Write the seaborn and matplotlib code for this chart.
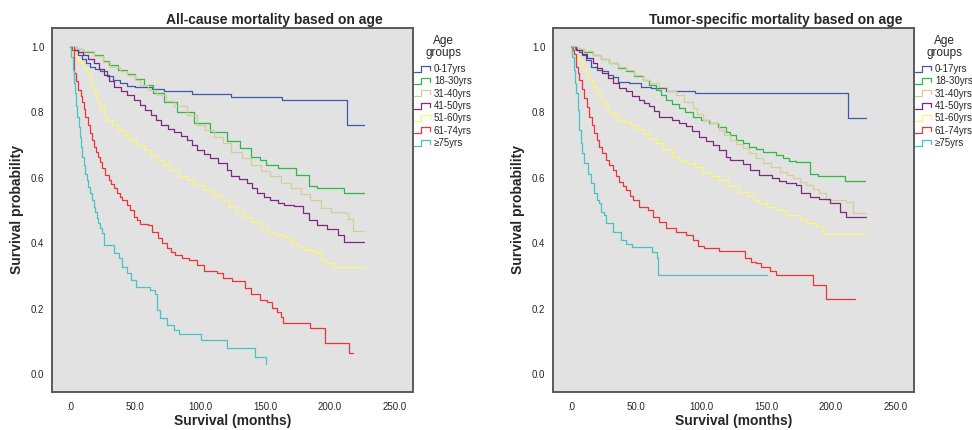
import numpy as np
import pandas as pd
import seaborn as sns
import matplotlib.pyplot as plt
from matplotlib.lines import Line2D
from matplotlib.legend_handler import HandlerBase

# groups / colours (SPSS default palette)
groups = ['0-17yrs', '18-30yrs', '31-40yrs', '41-50yrs', '51-60yrs', '61-74yrs', '≥75yrs']
colors = ['#3e58ac', '#2eb848', '#d3ce97', '#7c287d', '#fbf873', '#ef3338', '#48c2c5']

x_ticks = [0, 50, 100, 150, 200, 250]
x_ticklabels = ['.0', '50.0', '100.0', '150.0', '200.0', '250.0']
y_ticks = [0.0, 0.2, 0.4, 0.6, 0.8, 1.0]
y_ticklabels = ['0.0', '0.2', '0.4', '0.6', '0.8', '1.0']

# ---- all-cause mortality ----
ac_0_17_t = [0, 3, 6, 9, 12, 15, 19, 23, 28, 33, 38, 44, 50, 63, 72, 94, 124, 163, 213, 226]
ac_0_17_s = [1.0, 0.99, 0.975, 0.962, 0.95, 0.94, 0.932, 0.925, 0.912, 0.9, 0.889, 0.882, 0.877, 0.871, 0.864, 0.857, 0.846, 0.837, 0.76, 0.76]

ac_18_30_t = [0, 5, 10, 18, 25, 30, 37, 44, 50, 57, 64, 72, 82, 95, 108, 121, 131, 139, 146, 151, 160, 174, 184, 190, 211, 226]
ac_18_30_s = [1.0, 0.993, 0.985, 0.975, 0.958, 0.945, 0.93, 0.918, 0.902, 0.884, 0.858, 0.833, 0.802, 0.767, 0.741, 0.712, 0.69, 0.665, 0.654, 0.639, 0.629, 0.609, 0.575, 0.568, 0.552, 0.552]

ac_31_40_t = [0, 5, 10, 18, 25, 31, 38, 44, 50, 54, 60, 67, 74, 80, 90, 98, 104, 111, 118, 124, 132, 139, 147, 154, 162, 170, 178, 185, 193, 201, 212, 214, 218, 226]
ac_31_40_s = [1.0, 0.995, 0.988, 0.971, 0.955, 0.94, 0.926, 0.914, 0.898, 0.884, 0.869, 0.853, 0.835, 0.818, 0.792, 0.761, 0.745, 0.726, 0.705, 0.68, 0.662, 0.639, 0.622, 0.604, 0.585, 0.568, 0.55, 0.532, 0.507, 0.496, 0.491, 0.473, 0.437, 0.437]

ac_41_50_t = [0, 3, 6, 10, 14, 18, 22, 26, 30, 34, 39, 44, 49, 54, 58, 62, 66, 70, 75, 80, 85, 90, 94, 98, 103, 108, 114, 121, 124, 130, 136, 140, 144, 149, 154, 160, 165, 172, 179, 184, 190, 198, 206, 211, 226]
ac_41_50_s = [1.0, 0.99, 0.984, 0.976, 0.962, 0.95, 0.932, 0.914, 0.897, 0.879, 0.866, 0.853, 0.838, 0.823, 0.808, 0.792, 0.776, 0.761, 0.75, 0.741, 0.728, 0.716, 0.70, 0.685, 0.672, 0.66, 0.645, 0.625, 0.606, 0.595, 0.583, 0.57, 0.552, 0.542, 0.532, 0.524, 0.517, 0.515, 0.491, 0.471, 0.456, 0.442, 0.425, 0.405, 0.405]

ac_51_60_t = [0, 2, 4, 6, 8, 10, 13, 16, 18, 21, 23, 26, 28, 32, 37, 42, 46, 51, 57, 62, 67, 72, 77, 84, 90, 96, 103, 109, 116, 122, 128, 134, 140, 147, 152, 157, 165, 170, 175, 180, 188, 193, 198, 203, 226]
ac_51_60_s = [1.0, 0.985, 0.972, 0.96, 0.95, 0.935, 0.919, 0.88, 0.858, 0.835, 0.812, 0.792, 0.777, 0.762, 0.746, 0.73, 0.716, 0.70, 0.685, 0.67, 0.654, 0.64, 0.624, 0.605, 0.593, 0.578, 0.563, 0.548, 0.532, 0.51, 0.496, 0.481, 0.465, 0.445, 0.435, 0.425, 0.42, 0.402, 0.39, 0.379, 0.369, 0.349, 0.338, 0.326, 0.326]

ac_61_74_t = [0, 1.5, 2.6, 3.1, 4.5, 6.4, 8, 9, 10.5, 11.6, 13.5, 15.4, 17, 18, 20, 21.8, 23, 24.5, 27, 29.6, 31.5, 33.4, 36, 38.6, 40, 43.7, 46, 48.8, 51.5, 54, 59.7, 63, 68, 71, 74.6, 78, 81, 86, 91.3, 97.8, 103, 113, 118, 124.8, 135, 139, 146, 151.7, 155.6, 159, 162, 164, 185, 196, 215, 218]
ac_61_74_s = [1.0, 0.99, 0.976, 0.919, 0.895, 0.869, 0.85, 0.833, 0.81, 0.787, 0.76, 0.736, 0.715, 0.695, 0.68, 0.665, 0.648, 0.629, 0.61, 0.593, 0.58, 0.568, 0.555, 0.542, 0.532, 0.517, 0.5, 0.481, 0.471, 0.459, 0.456, 0.435, 0.415, 0.4, 0.384, 0.372, 0.364, 0.356, 0.349, 0.333, 0.315, 0.308, 0.294, 0.284, 0.262, 0.244, 0.226, 0.221, 0.201, 0.19, 0.175, 0.157, 0.142, 0.094, 0.063, 0.063]

ac_75_t = [0, 1, 2, 3, 3.9, 4.5, 5.2, 6.5, 7.7, 8.3, 9, 10.3, 11.6, 12.8, 14.1, 15.4, 16.7, 18, 19.3, 20.5, 21.8, 23, 24.5, 26.2, 33.4, 37.3, 40, 43.7, 46.8, 51, 61.7, 65.6, 67, 69.4, 74.6, 79.7, 83.6, 100.8, 121, 142, 150.7]
ac_75_s = [1.0, 0.97, 0.93, 0.89, 0.858, 0.82, 0.787, 0.755, 0.726, 0.695, 0.665, 0.64, 0.613, 0.593, 0.573, 0.552, 0.532, 0.512, 0.496, 0.478, 0.461, 0.445, 0.43, 0.394, 0.369, 0.354, 0.328, 0.31, 0.287, 0.265, 0.258, 0.244, 0.196, 0.17, 0.15, 0.135, 0.121, 0.104, 0.079, 0.053, 0.03]

# ---- tumor-specific mortality ----
ts_0_17_t = [0, 3, 6, 8.7, 11.3, 15.2, 20, 24, 28, 31.9, 35.7, 44.8, 53.8, 61.5, 73, 95, 213, 227]
ts_0_17_s = [1.0, 0.993, 0.985, 0.976, 0.96, 0.94, 0.93, 0.925, 0.915, 0.909, 0.894, 0.889, 0.879, 0.874, 0.866, 0.858, 0.782, 0.782]

ts_18_30_t = [0, 5, 10, 16.5, 23, 29.3, 36, 42.2, 48, 55, 60, 65.3, 69, 73, 78, 83.3, 88, 93.6, 100, 106.5, 113, 119.4, 122, 127, 132, 137, 142, 147.6, 158, 163, 168, 173.4, 184, 190, 211, 226]
ts_18_30_s = [1.0, 0.993, 0.986, 0.976, 0.963, 0.95, 0.937, 0.925, 0.912, 0.899, 0.885, 0.869, 0.853, 0.838, 0.825, 0.812, 0.8, 0.787, 0.777, 0.767, 0.754, 0.741, 0.731, 0.716, 0.706, 0.695, 0.688, 0.68, 0.67, 0.66, 0.652, 0.647, 0.613, 0.604, 0.589, 0.589]

ts_31_40_t = [0, 5, 10, 16.5, 23, 29.3, 36, 42.2, 48, 55, 61, 68, 74, 80.8, 87, 93.6, 97, 101.3, 107, 114, 118, 122, 127, 132, 137, 142, 147.6, 154, 160.5, 166, 171, 176, 181, 186, 191, 196.5, 212, 217, 227]
ts_31_40_s = [1.0, 0.995, 0.988, 0.976, 0.963, 0.95, 0.94, 0.93, 0.915, 0.899, 0.889, 0.879, 0.866, 0.853, 0.833, 0.812, 0.795, 0.777, 0.767, 0.745, 0.73, 0.716, 0.703, 0.69, 0.675, 0.66, 0.644, 0.632, 0.619, 0.608, 0.598, 0.588, 0.578, 0.565, 0.552, 0.532, 0.527, 0.493, 0.493]

ts_41_50_t = [0, 4, 8.7, 12.5, 16.5, 20, 24, 28, 31.9, 37, 42.2, 47, 52.5, 56, 60, 64, 68, 78, 83, 88.5, 93, 98.8, 104, 109, 114, 119, 122, 132, 138, 145, 155, 160, 165.7, 173.4, 177, 183.6, 191, 199, 206.8, 207.3, 211.4, 227]
ts_41_50_s = [1.0, 0.99, 0.98, 0.965, 0.95, 0.935, 0.919, 0.904, 0.889, 0.876, 0.864, 0.851, 0.838, 0.828, 0.818, 0.803, 0.787, 0.777, 0.767, 0.757, 0.742, 0.726, 0.713, 0.7, 0.685, 0.665, 0.654, 0.642, 0.625, 0.609, 0.598, 0.59, 0.583, 0.578, 0.552, 0.542, 0.534, 0.522, 0.517, 0.494, 0.479, 0.479]

ts_51_60_t = [0, 2, 4, 6.2, 8.5, 11.3, 14, 16.5, 20, 23, 26, 29.3, 33, 37, 41, 46, 50, 55, 60, 65.3, 71, 78, 83, 88.5, 95, 101.3, 108, 114, 121, 129.6, 136, 141, 145, 151, 158, 165.7, 176, 181, 188.8, 194, 227]
ts_51_60_s = [1.0, 0.985, 0.972, 0.96, 0.94, 0.919, 0.9, 0.879, 0.858, 0.838, 0.82, 0.802, 0.79, 0.777, 0.77, 0.761, 0.75, 0.736, 0.72, 0.705, 0.688, 0.665, 0.655, 0.644, 0.632, 0.619, 0.606, 0.593, 0.576, 0.558, 0.545, 0.532, 0.522, 0.512, 0.501, 0.486, 0.473, 0.461, 0.453, 0.428, 0.428]

ts_61_74_t = [0, 1.2, 2.3, 3.6, 5, 6.2, 8, 10, 12, 13.9, 15.8, 17.7, 19.6, 21.6, 24, 26.8, 29.3, 31.9, 34.5, 37, 39.6, 42.2, 45, 47.3, 52.5, 58.9, 62.7, 67.9, 73, 80.8, 88.5, 93.6, 97.5, 102.6, 113.7, 134, 138.7, 142.5, 146.4, 152.8, 158, 186, 196.2, 218.4]
ts_61_74_s = [1.0, 0.99, 0.98, 0.94, 0.92, 0.899, 0.87, 0.843, 0.815, 0.787, 0.76, 0.736, 0.715, 0.695, 0.675, 0.654, 0.64, 0.624, 0.605, 0.588, 0.575, 0.563, 0.545, 0.532, 0.512, 0.503, 0.481, 0.466, 0.445, 0.435, 0.425, 0.41, 0.391, 0.386, 0.376, 0.354, 0.344, 0.338, 0.328, 0.316, 0.303, 0.272, 0.228, 0.228]

ts_75_t = [0, 1, 2.3, 3, 3.6, 4.9, 6.2, 7.5, 8.7, 10, 12.6, 15.2, 17.7, 19.5, 21.6, 22.9, 25.5, 26.8, 32.4, 38.3, 42.2, 46.8, 62.2, 66.1, 66.9, 150.7]
ts_75_s = [1.0, 0.97, 0.93, 0.89, 0.858, 0.807, 0.746, 0.705, 0.675, 0.644, 0.613, 0.583, 0.552, 0.532, 0.524, 0.496, 0.486, 0.461, 0.435, 0.41, 0.399, 0.387, 0.372, 0.354, 0.303, 0.303]


def build(curves):
    # long-form table: one row per step point
    frames = []
    for g, (t, s) in zip(groups, curves):
        frames.append(pd.DataFrame({'months': t, 'surv': s, 'group': g}))
    return pd.concat(frames, ignore_index=True)


df_all = build([(ac_0_17_t, ac_0_17_s), (ac_18_30_t, ac_18_30_s), (ac_31_40_t, ac_31_40_s),
                (ac_41_50_t, ac_41_50_s), (ac_51_60_t, ac_51_60_s), (ac_61_74_t, ac_61_74_s),
                (ac_75_t, ac_75_s)])
df_tum = build([(ts_0_17_t, ts_0_17_s), (ts_18_30_t, ts_18_30_s), (ts_31_40_t, ts_31_40_s),
                (ts_41_50_t, ts_41_50_s), (ts_51_60_t, ts_51_60_s), (ts_61_74_t, ts_61_74_s),
                (ts_75_t, ts_75_s)])


class StepHandler(HandlerBase):
    # little step-shaped legend key like SPSS draws
    def create_artists(self, legend, orig_handle, xdescent, ydescent, width, height, fontsize, trans):
        x0, y0 = -xdescent, -ydescent
        xs = [x0, x0 + 0.45 * width, x0 + 0.45 * width, x0 + width, x0 + width]
        ys = [y0 + 0.1 * height, y0 + 0.1 * height, y0 + 0.9 * height, y0 + 0.9 * height, y0 + 0.35 * height]
        ln = Line2D(xs, ys, color=orig_handle.get_color(), lw=0.9)
        ln.set_transform(trans)
        return [ln]


sns.set_style('white')
plt.rcParams['font.family'] = ['Liberation Sans', 'DejaVu Sans']

W, H = 972, 430
fig = plt.figure(figsize=(W / 100, H / 100), dpi=100)
palette = dict(zip(groups, colors))

panels = [(52, df_all, 'All-cause mortality based on age', 274),
          (553, df_tum, 'Tumor-specific mortality based on age', 776)]

for left, df, title, title_x in panels:
    ax = fig.add_axes([left / W, (H - 392) / H, 361 / W, 364 / H])
    sns.lineplot(data=df, x='months', y='surv', hue='group', hue_order=groups, palette=palette,
                 estimator=None, sort=False, drawstyle='steps-post', linewidth=0.9,
                 legend=False, ax=ax)
    ax.set_facecolor('#e2e2e2')
    ax.set_xlim(-14, 264)
    ax.set_ylim(-0.055, 1.058)
    ax.set_xticks(x_ticks)
    ax.set_xticklabels(x_ticklabels)
    ax.set_yticks(y_ticks)
    ax.set_yticklabels(y_ticklabels)
    ax.tick_params(axis='both', labelsize=7, length=4, width=0.8, color='#333333', direction='out')
    ax.tick_params(axis='x', pad=3)
    ax.tick_params(axis='y', pad=1.5)
    for sp in ax.spines.values():
        sp.set_color('#5a5a5a')
        sp.set_linewidth(1.4)
    ax.set_xlabel('')
    ax.set_ylabel('')

    # titles and axis labels
    fig.text(title_x / W, 1 - 20 / H, title, ha='center', va='center', fontsize=10, fontweight='bold')
    fig.text((left - 35) / W, 1 - 210 / H, 'Survival probability', rotation=90,
             ha='center', va='center', fontsize=10, fontweight='bold')
    fig.text((left + 180.5) / W, 1.5 / H, 'Survival (months)', ha='center', va='bottom',
             fontsize=10, fontweight='bold')

    # legend: title as its own text, entries below it
    fig.text((left + 391) / W, 1 - 35 / H, 'Age\ngroups', ha='center', va='top',
             multialignment='center', fontsize=8.5, linespacing=1.05)
    handles = [Line2D([], [], color=c) for c in colors]
    fig.legend(handles, groups, loc='upper left',
               bbox_to_anchor=((left + 362) / W, 1 - 64 / H), frameon=False,
               fontsize=7, handlelength=1.6, handleheight=0.8,
               handletextpad=0.45, labelspacing=0.24, borderpad=0, borderaxespad=0,
               handler_map={Line2D: StepHandler()})

fig.savefig('out.png', dpi=100)
